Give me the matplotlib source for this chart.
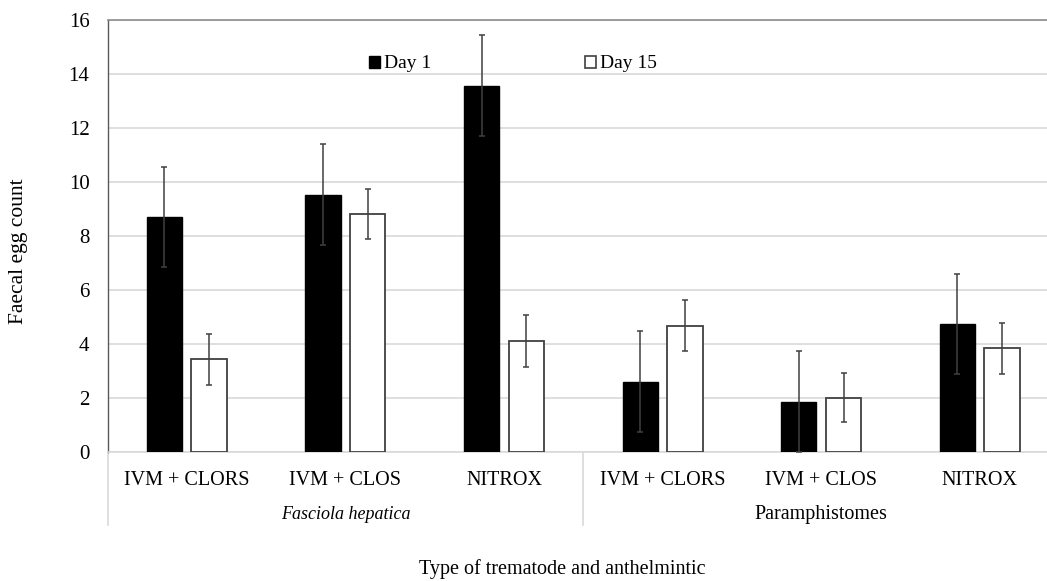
import numpy as np
import matplotlib
matplotlib.use('Agg')
import matplotlib.pyplot as plt
import matplotlib.patches as mpatches
from matplotlib.lines import Line2D

plt.rcParams['font.family'] = ['Liberation Serif', 'DejaVu Serif']

# data
categories = ['IVM + CLORS', 'IVM + CLOS', 'NITROX', 'IVM + CLORS', 'IVM + CLOS', 'NITROX']
groups = ['Fasciola hepatica', 'Paramphistomes']
day1 = [8.71, 9.54, 13.57, 2.62, 1.87, 4.75]
day15 = [3.45, 8.83, 4.13, 4.69, 2.03, 3.85]
err_day1 = [1.86, 1.86, 1.88, 1.88, 1.87, 1.86]
err_day15 = [0.95, 0.93, 0.96, 0.95, 0.92, 0.93]
yticks = [0, 2, 4, 6, 8, 10, 12, 14, 16]

fs = 14.5
fig = plt.figure(figsize=(10.47, 5.81), dpi=100)
# plot area runs past the right edge, like the cropped original
ax = fig.add_axes([0.1027, 0.2212, 0.9088, 0.7444])

x = np.arange(len(categories))
w = 0.223
off = 0.141
ekw = dict(ecolor='#404040', elinewidth=1.1, capsize=2.5, capthick=1.1)
ax.bar(x - off, day1, w, color='black', edgecolor='black', yerr=err_day1,
       error_kw=ekw, zorder=3, label='Day 1')
ax.bar(x + off, day15, w, color='white', edgecolor='#404040', linewidth=1.3,
       yerr=err_day15, error_kw=ekw, zorder=3, label='Day 15')

ax.set_xlim(-0.5, 5.5)
ax.set_ylim(0, 16)
ax.set_yticks(yticks)
ax.set_yticklabels([str(t) for t in yticks], fontsize=15)
ax.tick_params(axis='y', length=0, pad=13)
ax.set_xticks(x)
ax.set_xticklabels(categories, fontsize=fs)
ax.tick_params(axis='x', length=0, pad=13.5)
ax.yaxis.grid(True, color='#d9d9d9', linewidth=1.2, zorder=0)
ax.set_axisbelow(True)

ax.spines['right'].set_visible(False)
ax.spines['top'].set_color('#8c8c8c')
ax.spines['top'].set_linewidth(1.2)
ax.spines['left'].set_color('#595959')
ax.spines['left'].set_linewidth(1.0)
ax.spines['bottom'].set_color('#d9d9d9')
ax.spines['bottom'].set_linewidth(1.2)

# group separators under the axis
trans = ax.get_xaxis_transform()
for xs in [-0.5, 2.5, 5.5]:
    ax.add_line(Line2D([xs, xs], [0, -0.168], transform=trans, color='#d9d9d9',
                       linewidth=1.2, clip_on=False))
ax.text(1.0, -0.1445, groups[0], transform=trans, ha='center', va='center',
        fontsize=13, style='italic')
ax.text(4.0, -0.1445, groups[1], transform=trans, ha='center', va='center',
        fontsize=fs)

fig.text(18.5 / 1047, 1 - 251 / 581, 'Faecal egg count', rotation=90,
         ha='center', va='center', fontsize=15.5)
fig.text(562 / 1047, 1 - 569 / 581, 'Type of trematode and anthelmintic',
         ha='center', va='center', fontsize=fs)

h1 = mpatches.Patch(facecolor='black', edgecolor='black', label='Day 1')
h2 = mpatches.Patch(facecolor='white', edgecolor='#404040', linewidth=1.2, label='Day 15')
fig.legend(handles=[h1, h2], loc='center left', bbox_to_anchor=(369 / 1047, 1 - 64 / 581),
           ncol=2, frameon=False, fontsize=14, handlelength=0.57, handleheight=0.57,
           handletextpad=0.2, columnspacing=7.9, borderpad=0, borderaxespad=0)

fig.savefig('out.png', dpi=100)
